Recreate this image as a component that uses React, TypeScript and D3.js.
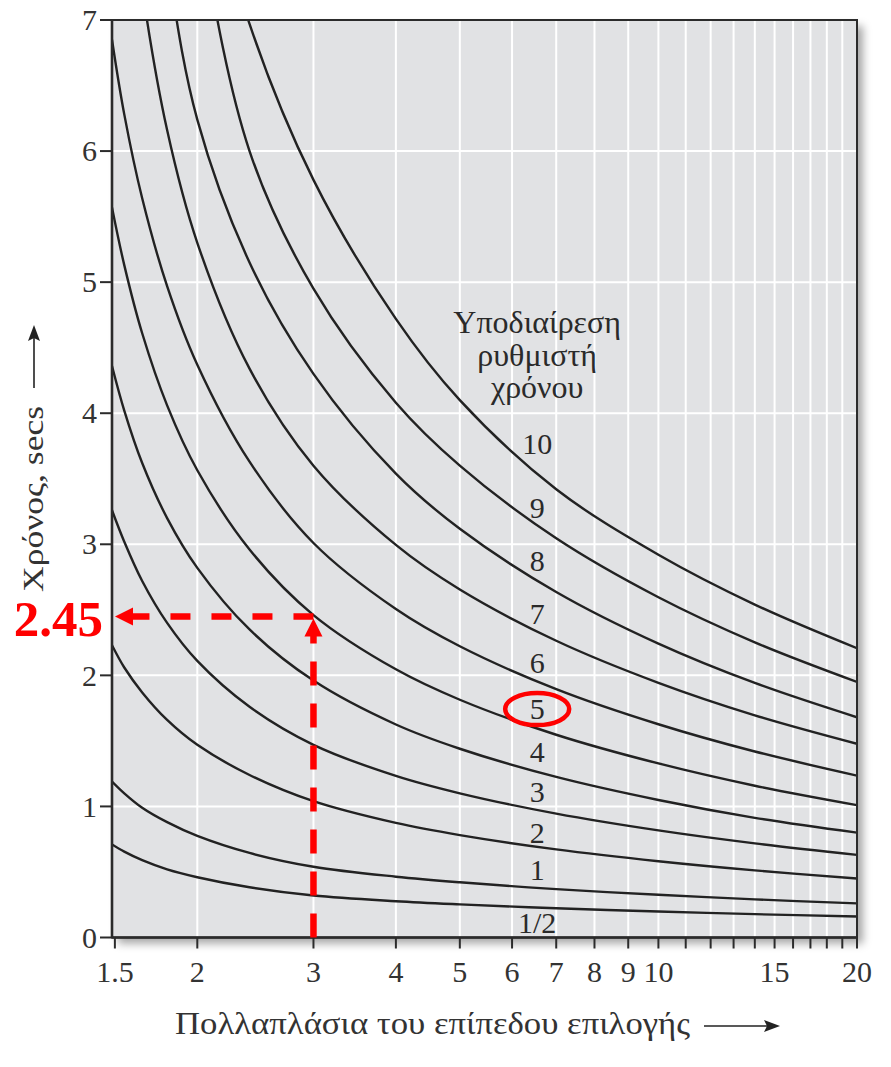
import React from 'react';
import * as d3 from 'd3';

const W = 891;
const H = 1067;
const FONT = "'Liberation Serif', 'DejaVu Serif', serif";

// Plot frame
const PL = 112, PR = 857, PT = 20, PB = 937.5;

// Data
const xDomain = [1.485, 20];
const yDomain = [0, 7];
const mGrid = [1.485, 1.55, 1.65, 1.8, 2, 2.4, 3, 4, 5, 7, 10, 14, 20];
const settings = ['1/2', '1', '2', '3', '4', '5', '6', '7', '8', '9', '10'];
const tHalf = [0.71, 0.655, 0.59, 0.52, 0.46, 0.383, 0.32, 0.277, 0.253, 0.223, 0.198, 0.178, 0.16];
const t1 = [1.19, 1.10, 0.99, 0.88, 0.775, 0.645, 0.54, 0.464, 0.421, 0.369, 0.326, 0.291, 0.26];
const t2 = [2.23, 2.06, 1.87, 1.66, 1.47, 1.24, 1.04, 0.874, 0.781, 0.672, 0.582, 0.512, 0.45];
const t3 = [3.26, 3.02, 2.72, 2.40, 2.11, 1.76, 1.47, 1.233, 1.10, 0.945, 0.817, 0.718, 0.63];
const t4 = [4.36, 4.02, 3.62, 3.20, 2.82, 2.35, 1.96, 1.625, 1.44, 1.225, 1.049, 0.913, 0.80];
const t5 = [5.57, 5.13, 4.61, 4.06, 3.565, 2.96, 2.46, 2.046, 1.814, 1.547, 1.328, 1.158, 1.01];
const t6 = [6.85, 6.28, 5.64, 4.97, 4.37, 3.63, 3.01, 2.506, 2.222, 1.895, 1.627, 1.419, 1.235];
const t7 = [9.45, 8.38, 7.24, 6.16, 5.30, 4.34, 3.6, 2.995, 2.655, 2.264, 1.943, 1.695, 1.478];
const t8 = [11.84, 10.49, 8.97, 7.46, 6.24, 5.15, 4.3, 3.539, 3.118, 2.636, 2.242, 1.942, 1.68];
const t9 = [14.81, 13.25, 11.4, 9.49, 7.85, 6.0, 4.95, 4.08, 3.60, 3.046, 2.596, 2.252, 1.95];
const t10 = [13.73, 12.61, 11.23, 9.77, 8.47, 6.97, 5.78, 4.72, 4.10, 3.42, 2.92, 2.54, 2.207];
const curveValues = [tHalf, t1, t2, t3, t4, t5, t6, t7, t8, t9, t10];
const labelM = 6.55;
const labelT = [0.035, 0.44, 0.72, 1.03, 1.34, 1.67, 2.02, 2.39, 2.80, 3.20, 3.69];

const xTickLabels = [1.5, 2, 3, 4, 5, 6, 7, 8, 9, 10, 15, 20];
const xMinorTicks = [11, 12, 13, 14, 16, 17, 18, 19];
const xGridValues = [2, 3, 4, 5, 6, 7, 8, 9, 10, 11, 12, 13, 14, 15, 16, 17, 18, 19];
const yTickValues = [0, 1, 2, 3, 4, 5, 6, 7];
const yGridValues = [1, 2, 3, 4, 5, 6];

const legendLines = ['Υποδιαίρεση', 'ρυθμιστή', 'χρόνου'];
const xTitle = 'Πολλαπλάσια του επίπεδου επιλογής';
const yTitle = 'Χρόνος, secs';

// Highlighted reading
const markM = 3;
const markT = 2.45;
const markLabel = '2.45';
const circleSetting = 5;

export default function App() {
  const x = d3.scaleLog().domain(xDomain).range([PL, PR]);
  const y = d3.scaleLinear().domain(yDomain).range([PB, PT]);
  const line = d3
    .line<number>()
    .x((_, i) => x(mGrid[i]))
    .y((d) => y(d))
    .curve(d3.curveCatmullRom.alpha(0.5));

  const red = '#ff0000';
  const mx = x(markM);
  const my = y(markT);
  const circleIdx = settings.indexOf(String(circleSetting));

  return (
    <svg
      width={W}
      height={H}
      style={{ position: 'absolute', left: 0, top: 0, background: '#fff' }}
      fontFamily={FONT}
    >
      <defs>
        <clipPath id="plotClip">
          <rect x={PL} y={PT} width={PR - PL} height={PB - PT} />
        </clipPath>
        <filter id="shadow" x="-5%" y="-5%" width="115%" height="115%">
          <feDropShadow dx="6" dy="6" stdDeviation="4" floodColor="#000" floodOpacity="0.35" />
        </filter>
      </defs>

      {/* plot background with shadow */}
      <rect x={PL} y={PT} width={PR - PL} height={PB - PT} fill="#e1e2e4" filter="url(#shadow)" />

      {/* grid */}
      <g stroke="#ffffff" strokeWidth={2}>
        {xGridValues.map((v) => (
          <line key={'gx' + v} x1={x(v)} x2={x(v)} y1={PT} y2={PB} />
        ))}
        {yGridValues.map((v) => (
          <line key={'gy' + v} x1={PL} x2={PR} y1={y(v)} y2={y(v)} />
        ))}
      </g>

      {/* curves */}
      <g clipPath="url(#plotClip)" fill="none" stroke="#222" strokeWidth={2.4}>
        {curveValues.map((vals, i) => (
          <path key={'c' + i} d={line(vals) || ''} />
        ))}
      </g>

      {/* curve labels */}
      <g fontSize={30} fill="#2a2a2a" textAnchor="middle">
        {settings.map((s, i) => (
          <text key={'l' + s} x={x(labelM)} y={y(labelT[i])}>
            {s}
          </text>
        ))}
      </g>

      {/* legend title */}
      <g fontSize={32} fill="#2a2a2a" textAnchor="middle">
        {legendLines.map((t, i) => (
          <text key={'lg' + i} x={x(labelM)} y={333 + i * 32.5}>
            {t}
          </text>
        ))}
      </g>

      {/* frame */}
      <rect x={PL} y={PT} width={PR - PL} height={PB - PT} fill="none" stroke="#2b2b2b" strokeWidth={2} />
      <line x1={PL} x2={PL} y1={PT} y2={PB} stroke="#2b2b2b" strokeWidth={2.6} />
      <line x1={PL} x2={PR} y1={PB} y2={PB} stroke="#2b2b2b" strokeWidth={2.6} />

      {/* y ticks */}
      <g stroke="#2b2b2b" strokeWidth={2}>
        {yTickValues.map((v) => (
          <line key={'yt' + v} x1={PL - 12} x2={PL} y1={y(v)} y2={y(v)} />
        ))}
      </g>
      <g fontSize={30} fill="#333" textAnchor="end">
        {yTickValues.map((v) => (
          <text key={'ytl' + v} x={97} y={y(v)} dy="0.34em">
            {v}
          </text>
        ))}
      </g>

      {/* x ticks */}
      <g stroke="#2b2b2b" strokeWidth={2}>
        {[...xTickLabels, ...xMinorTicks].map((v) => (
          <line key={'xt' + v} x1={x(v)} x2={x(v)} y1={PB} y2={PB + 11} />
        ))}
      </g>
      <g fontSize={30} fill="#333" textAnchor="middle">
        {xTickLabels.map((v) => (
          <text key={'xtl' + v} x={x(v)} y={982}>
            {v}
          </text>
        ))}
      </g>

      {/* axis titles */}
      <text x={175} y={1034} fontSize={31} fill="#333" textLength={515} lengthAdjust="spacingAndGlyphs">
        {xTitle}
      </text>
      <line x1={704} x2={768} y1={1026} y2={1026} stroke="#222" strokeWidth={1.6} />
      <path d="M 780 1026 L 764 1020 L 767 1026 L 764 1032 Z" fill="#222" />

      <text
        x={0}
        y={0}
        fontSize={30}
        fill="#333"
        transform={`translate(43,592) rotate(-90)`}
        textLength={186}
        lengthAdjust="spacingAndGlyphs"
      >
        {yTitle}
      </text>
      <line x1={34} x2={34} y1={388} y2={337} stroke="#222" strokeWidth={1.6} />
      <path d="M 34 325 L 28 341 L 34 338 L 40 341 Z" fill="#222" />

      {/* red annotation */}
      <g stroke={red} strokeWidth={6.5} fill="none">
        <line x1={mx} x2={PL + 18} y1={my} y2={my} strokeDasharray="20 21" />
        <line x1={mx} x2={mx} y1={PB} y2={my + 18} strokeDasharray="24 18" />
      </g>
      <path d={`M ${PL + 3} ${my} L ${PL + 21} ${my - 9} L ${PL + 21} ${my + 9} Z`} fill={red} />
      <path d={`M ${mx} ${my + 2} L ${mx - 9} ${my + 20} L ${mx + 9} ${my + 20} Z`} fill={red} />
      <text x={103} y={my + 20} fontSize={51} fontWeight="bold" fill={red} textAnchor="end">
        {markLabel}
      </text>
      <ellipse
        cx={x(labelM)}
        cy={y(labelT[circleIdx]) - 9.5}
        rx={32}
        ry={16}
        fill="none"
        stroke={red}
        strokeWidth={4.5}
      />
    </svg>
  );
}
